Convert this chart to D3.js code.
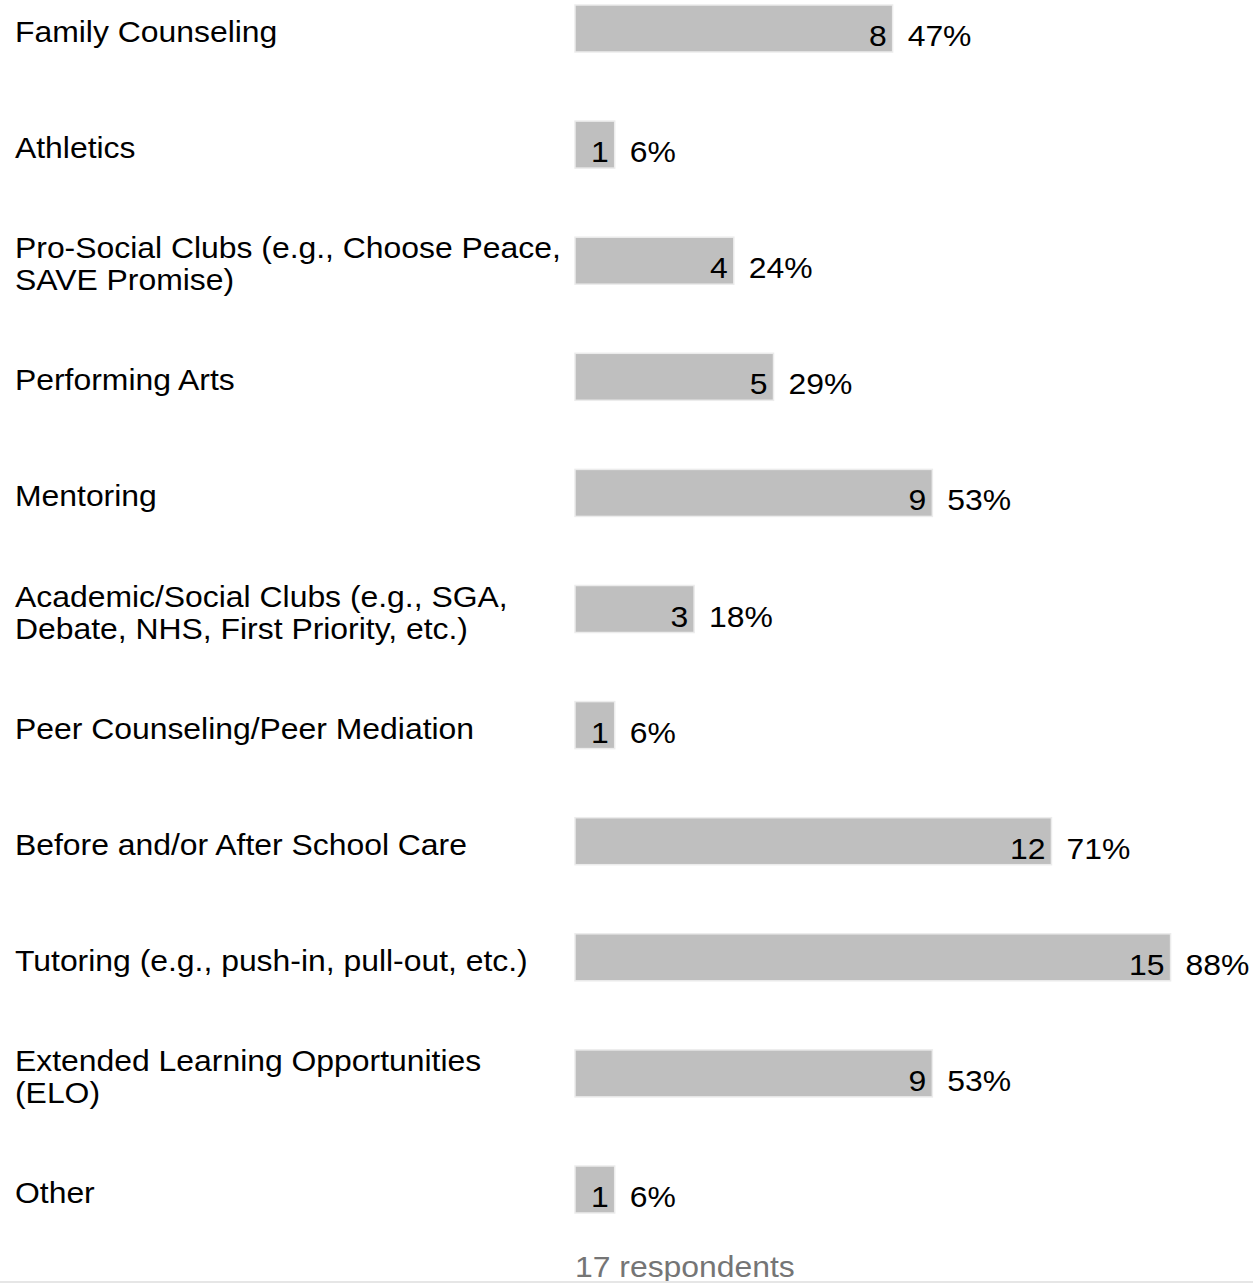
<!DOCTYPE html>
<html><head><meta charset="utf-8">
<script src="https://cdn.jsdelivr.net/npm/d3@7"></script>
<style>html,body{margin:0;padding:0;background:#fff;overflow:hidden}</style>
</head><body>
<svg id="c" width="1253" height="1283"></svg>
<script>
const categories = [
  ["Family Counseling"],
  ["Athletics"],
  ["Pro-Social Clubs (e.g., Choose Peace,", "SAVE Promise)"],
  ["Performing Arts"],
  ["Mentoring"],
  ["Academic/Social Clubs (e.g., SGA,", "Debate, NHS, First Priority, etc.)"],
  ["Peer Counseling/Peer Mediation"],
  ["Before and/or After School Care"],
  ["Tutoring (e.g., push-in, pull-out, etc.)"],
  ["Extended Learning Opportunities", "(ELO)"],
  ["Other"]
];
const counts = [8, 1, 4, 5, 9, 3, 1, 12, 15, 9, 1];
const percents = ["47%", "6%", "24%", "29%", "53%", "18%", "6%", "71%", "88%", "53%", "6%"];
const respondents = 17;
const footer = "17 respondents";

const svg = d3.select("#c");
const font = "'Liberation Sans', Arial, sans-serif";
const sx = 1.1;
const fs = 29;
const x = d3.scaleLinear().domain([0, respondents]).range([575, 1250]);
const y = d3.scaleBand().domain(d3.range(categories.length)).range([5, 5 + 116.1 * 11]).paddingInner(0).paddingOuter(0);
const barH = 47;

function txt(g, tx, ty, s) {
  return g.append("text").attr("transform", `translate(${tx},${ty}) scale(${sx},1)`)
    .attr("font-family", font).attr("font-size", fs).attr("fill", "#000").text(s);
}

const rows = svg.selectAll("g.row").data(categories).join("g").attr("class", "row")
  .attr("transform", (d, i) => `translate(0,${y(i)})`);

rows.append("rect")
  .attr("x", x(0)).attr("y", 0)
  .attr("width", (d, i) => x(counts[i]) - x(0)).attr("height", barH)
  .attr("fill", "#bfbfbf").attr("stroke", "#ececec").attr("stroke-width", 1.5);

rows.each(function(lines, i) {
  const g = d3.select(this);
  const n = lines.length;
  lines.forEach((ln, j) => {
    txt(g, 15, 37 - (n - 1) * 16 + j * 32, ln);
  });
  txt(g, x(counts[i]) - 6, 41, counts[i]).attr("text-anchor", "end");
  txt(g, x(counts[i]) + 15, 41, percents[i]);
});

txt(svg, 575, 1277, footer).attr("fill", "#757575");
svg.append("rect").attr("x", 0).attr("y", 1281).attr("width", 1253).attr("height", 2).attr("fill", "#e6e6e6");
</script>
</body></html>
